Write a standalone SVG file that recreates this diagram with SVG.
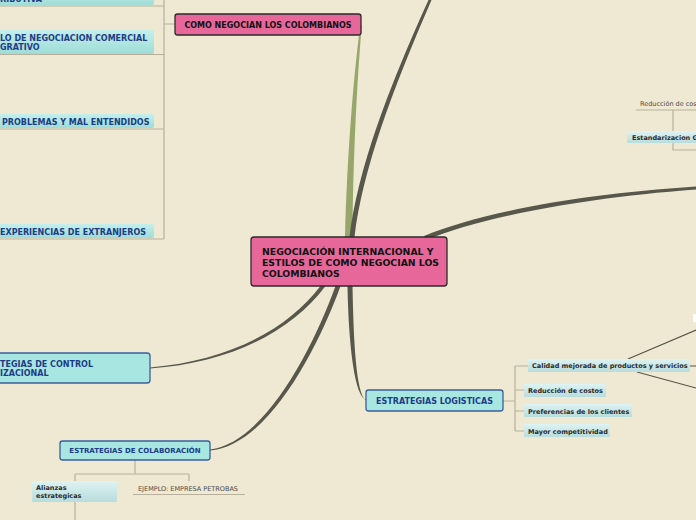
<svg xmlns="http://www.w3.org/2000/svg" width="696" height="520" viewBox="0 0 696 520">
<defs>
<linearGradient id="gsub" x1="0" y1="0" x2="0" y2="1">
<stop offset="0" stop-color="#c4efec"/><stop offset="1" stop-color="#9fdcd7"/>
</linearGradient>
<linearGradient id="gleaf" x1="0" y1="0" x2="0" y2="1">
<stop offset="0" stop-color="#dff3f3"/><stop offset="1" stop-color="#b8dcdc"/>
</linearGradient>
<style>
.bg{fill:#efe8d2}
.pink{fill:#e8679a;stroke:#2a2a2a;stroke-width:1.3}
.main{fill:#a8e6e2;stroke:#3b5f9a;stroke-width:1.3}
.sub{fill:url(#gsub)}
.leaf{fill:url(#gleaf)}
.tb{font-family:"DejaVu Sans",Verdana,sans-serif;font-weight:bold;fill:#111}
.tblue{font-family:"DejaVu Sans",Verdana,sans-serif;font-weight:bold;fill:#1d3c86}
.tleaf{font-family:"DejaVu Sans",Verdana,sans-serif;font-weight:bold;fill:#2a2a2a}
.tplain{font-family:"DejaVu Sans",Verdana,sans-serif;fill:#4a4a4a}
.br{fill:none;stroke:#b8b09a;stroke-width:1.2}
.thin{fill:none;stroke:#555548;stroke-width:1.2}
.thick{fill:#57574b}
</style>
</defs>
<rect class="bg" x="0" y="0" width="696" height="520"/>

<g id="connectors">
<path fill="#97a76b" d="M345,237 C347,160 353,80 360.3,25 L361.8,25 C357,80 353,160 352.5,237 Z"/>
<path class="thick" d="M349.5,237 C357.5,170 388,89 428.5,0 L431.5,0 C392,91 362.5,170 354.5,237 Z"/>
<path class="thick" d="M424,236 C480,212.5 580,194 696,186.5 L696,189.5 C580,198 481,217.5 426,240 Z"/>
<path class="thick" d="M347.5,286 C348.5,340 354,396 366,399.5 L366,400.5 C356,394 353.5,340 352.5,286 Z"/>
<path class="thick" d="M320.5,286 C288,329 229,361 150,367.4 L150,368.6 C231,363 292,331 325.5,286 Z"/>
<path class="thick" d="M335.5,286 C312.5,350 263.5,443.5 210,449.4 L210,450.6 C266.5,446.5 317.5,350 340.5,286 Z"/>

<path class="br" d="M0,6 H164 M0,54.5 H164 M0,129 H164 M0,239 H164 M164,0 V239 M164,24 H175"/>

<path class="br" d="M503,401 H515 M515,366 V431 M515,366 H528 M515,390 H524 M515,411 H524 M515,431 H524"/>
<path class="thin" d="M628,359 L696,330 M690,366 H696 M637,372 L696,388"/>

<path class="br" d="M135,460 V474 M75,474 H189 M75,474 V481 M189,474 V481 M75,502 V520"/>
<path class="br" d="M133,494.5 H245" stroke-width="1.5"/>

<path class="br" d="M636,110 H696 M673,110 V150 H696"/>
</g>

<g id="n-distributiva">
<rect class="sub" x="-10" y="-10" width="164" height="15" rx="2"/>
<text class="tblue" x="0" y="1.5" font-size="8">RIBUTIVA</text>
</g>

<g id="n-integrativo">
<rect class="sub" x="-10" y="30" width="164" height="24" rx="2"/>
<text class="tblue" x="0" y="41" font-size="8">LO DE NEGOCIACION COMERCIAL</text>
<text class="tblue" x="0" y="50" font-size="8">GRATIVO</text>
</g>

<g id="n-problemas">
<rect class="sub" x="-10" y="114" width="164" height="14" rx="2"/>
<text class="tblue" x="2" y="124.5" font-size="8">PROBLEMAS Y MAL ENTENDIDOS</text>
</g>

<g id="n-experiencias">
<rect class="sub" x="-10" y="224" width="164" height="14" rx="2"/>
<text class="tblue" x="0" y="234.5" font-size="8">EXPERIENCIAS DE EXTRANJEROS</text>
</g>

<g id="n-como">
<rect class="pink" x="175" y="14" width="186" height="21" rx="2.5"/>
<text class="tb" x="268" y="27.8" font-size="8" text-anchor="middle">COMO NEGOCIAN LOS COLOMBIANOS</text>
</g>

<g id="n-central">
<rect class="pink" x="251" y="237" width="196" height="49" rx="3"/>
<text class="tb" x="262" y="254.5" font-size="9.3">NEGOCIACIÓN INTERNACIONAL Y</text>
<text class="tb" x="262" y="265.5" font-size="9.3">ESTILOS DE COMO NEGOCIAN LOS</text>
<text class="tb" x="262" y="276.5" font-size="9.3">COLOMBIANOS</text>
</g>

<g id="n-control">
<rect class="main" x="-10" y="353" width="160" height="30" rx="3"/>
<text class="tblue" x="0" y="367" font-size="8">TEGIAS DE CONTROL</text>
<text class="tblue" x="0" y="376" font-size="8">IZACIONAL</text>
</g>

<g id="n-colaboracion">
<rect class="main" x="60" y="441" width="150" height="19" rx="2.5"/>
<text class="tblue" x="135" y="453.3" font-size="7" text-anchor="middle">ESTRATEGIAS DE COLABORACIÓN</text>
</g>

<g id="n-alianzas">
<rect class="leaf" x="32" y="481" width="85" height="21" rx="1"/>
<text class="tleaf" x="36" y="490" font-size="6.5">Alianzas</text>
<text class="tleaf" x="36" y="498" font-size="6.5">estrategicas</text>
</g>

<g id="n-petrobas">
<text class="tplain" x="138" y="490.5" font-size="6.5">EJEMPLO: EMPRESA PETROBAS</text>
</g>

<g id="n-logisticas">
<rect class="main" x="366" y="390" width="137" height="21" rx="2.5"/>
<text class="tblue" x="434.5" y="403.8" font-size="8" text-anchor="middle">ESTRATEGIAS LOGISTICAS</text>
</g>

<g id="n-calidad">
<rect class="leaf" x="528" y="359" width="162" height="13" rx="1"/>
<text class="tleaf" x="532" y="368" font-size="6.5">Calidad mejorada de productos y servicios</text>
</g>
<g id="n-reduccion">
<rect class="leaf" x="524" y="384" width="82" height="13" rx="1"/>
<text class="tleaf" x="528" y="393" font-size="6.5">Reducción de costos</text>
</g>
<g id="n-preferencias">
<rect class="leaf" x="524" y="404" width="108" height="13" rx="1"/>
<text class="tleaf" x="528" y="413.5" font-size="6.5">Preferencias de los clientes</text>
</g>
<g id="n-mayor">
<rect class="leaf" x="524" y="424" width="86" height="13" rx="1"/>
<text class="tleaf" x="528" y="433.5" font-size="6.5">Mayor competitividad</text>
</g>

<g id="n-white">
<rect x="693" y="314" width="4" height="8" fill="#ffffff"/>
</g>

<g id="n-reduccion-cos">
<text class="tplain" x="640" y="106" font-size="6.5">Reducción de cos</text>
</g>
<g id="n-estandarizacion">
<rect class="leaf" x="627" y="131" width="72" height="12" rx="1"/>
<text class="tleaf" x="632" y="139.8" font-size="6.5">Estandarizacion G</text>
</g>
</svg>
